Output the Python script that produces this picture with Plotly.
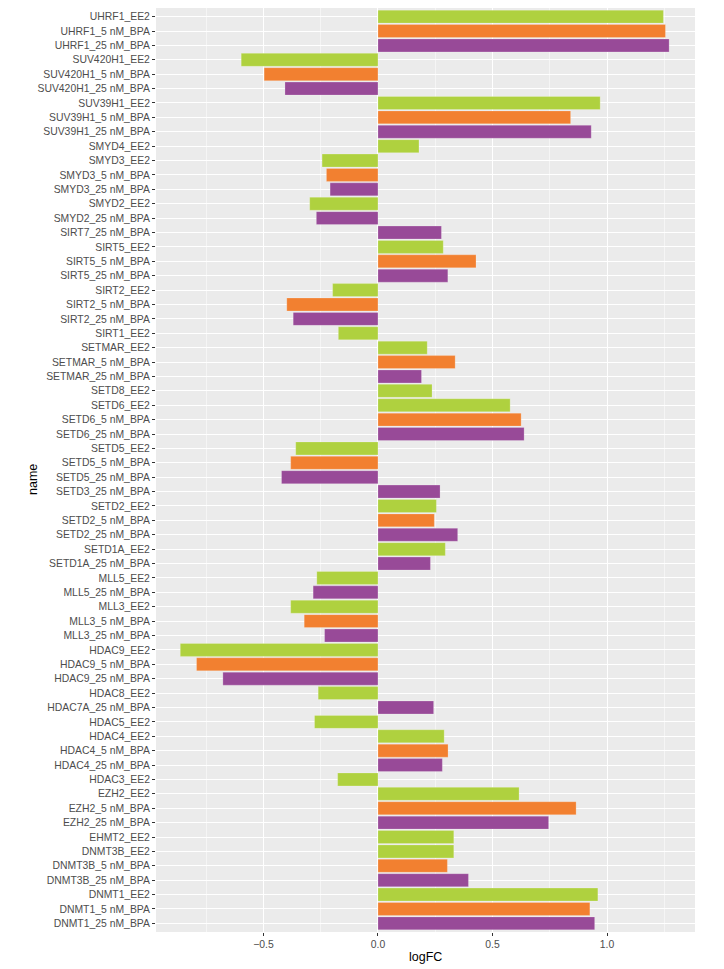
import plotly.graph_objects as go

names = [
    "UHRF1_EE2", "UHRF1_5 nM_BPA", "UHRF1_25 nM_BPA",
    "SUV420H1_EE2", "SUV420H1_5 nM_BPA", "SUV420H1_25 nM_BPA",
    "SUV39H1_EE2", "SUV39H1_5 nM_BPA", "SUV39H1_25 nM_BPA",
    "SMYD4_EE2",
    "SMYD3_EE2", "SMYD3_5 nM_BPA", "SMYD3_25 nM_BPA",
    "SMYD2_EE2", "SMYD2_25 nM_BPA",
    "SIRT7_25 nM_BPA",
    "SIRT5_EE2", "SIRT5_5 nM_BPA", "SIRT5_25 nM_BPA",
    "SIRT2_EE2", "SIRT2_5 nM_BPA", "SIRT2_25 nM_BPA",
    "SIRT1_EE2",
    "SETMAR_EE2", "SETMAR_5 nM_BPA", "SETMAR_25 nM_BPA",
    "SETD8_EE2",
    "SETD6_EE2", "SETD6_5 nM_BPA", "SETD6_25 nM_BPA",
    "SETD5_EE2", "SETD5_5 nM_BPA", "SETD5_25 nM_BPA",
    "SETD3_25 nM_BPA",
    "SETD2_EE2", "SETD2_5 nM_BPA", "SETD2_25 nM_BPA",
    "SETD1A_EE2", "SETD1A_25 nM_BPA",
    "MLL5_EE2", "MLL5_25 nM_BPA",
    "MLL3_EE2", "MLL3_5 nM_BPA", "MLL3_25 nM_BPA",
    "HDAC9_EE2", "HDAC9_5 nM_BPA", "HDAC9_25 nM_BPA",
    "HDAC8_EE2",
    "HDAC7A_25 nM_BPA",
    "HDAC5_EE2",
    "HDAC4_EE2", "HDAC4_5 nM_BPA", "HDAC4_25 nM_BPA",
    "HDAC3_EE2",
    "EZH2_EE2", "EZH2_5 nM_BPA", "EZH2_25 nM_BPA",
    "EHMT2_EE2",
    "DNMT3B_EE2", "DNMT3B_5 nM_BPA", "DNMT3B_25 nM_BPA",
    "DNMT1_EE2", "DNMT1_5 nM_BPA", "DNMT1_25 nM_BPA",
]

logFC = [
    1.246, 1.255, 1.271,
    -0.597, -0.497, -0.406,
    0.970, 0.841, 0.931,
    0.179,
    -0.244, -0.225, -0.209,
    -0.298, -0.269,
    0.277,
    0.285, 0.428, 0.305,
    -0.198, -0.398, -0.370,
    -0.173,
    0.215, 0.337, 0.190,
    0.236,
    0.577, 0.625, 0.638,
    -0.359, -0.381, -0.421,
    0.271,
    0.255, 0.246, 0.348,
    0.294, 0.229,
    -0.267, -0.283,
    -0.381, -0.322, -0.233,
    -0.863, -0.792, -0.677,
    -0.261,
    0.243,
    -0.277,
    0.289, 0.306, 0.281,
    -0.176,
    0.616, 0.865, 0.745,
    0.331,
    0.331, 0.303, 0.395,
    0.960, 0.925, 0.946,
]

groups = ["EE2", "5 nM_BPA", "25 nM_BPA"]
group_colors = {"EE2": "#AFD13F", "5 nM_BPA": "#F28030", "25 nM_BPA": "#984A98"}

def group_of(n):
    for g in ["25 nM_BPA", "5 nM_BPA", "EE2"]:
        if n.endswith(g):
            return g
    return "EE2"

fig = go.Figure()
for g in groups:
    ys = [n for n in names if group_of(n) == g]
    xs = [v for n, v in zip(names, logFC) if group_of(n) == g]
    fig.add_trace(go.Bar(
        x=xs, y=ys, orientation="h", width=0.9,
        marker=dict(color=group_colors[g], line=dict(color="rgba(255,255,255,0.35)", width=0.6)),
        name=g, showlegend=False,
    ))

# page body has an 8px default margin; compensate
OFF = 8
W, H = 724 - OFF, 969 - OFF
ML, MR, MT, MB = 156 - OFF, 29, 8 - OFF, 37
n = len(names)
fig.update_layout(
    width=W, height=H,
    margin=dict(l=ML, r=MR, t=MT, b=MB, pad=0),
    paper_bgcolor="white",
    plot_bgcolor="#EBEBEB",
    barmode="overlay",
    font=dict(family="Liberation Sans, Arial, sans-serif", size=10.4, color="#4D4D4D"),
    xaxis=dict(
        range=[-0.969, 1.384],
        tickvals=[-0.5, 0.0, 0.5, 1.0],
        ticktext=["\u22120.5", "0.0", "0.5", "1.0"],
        showgrid=True, gridcolor="white", gridwidth=1.1,
        zeroline=False, showline=False,
        ticks="outside", ticklen=3, tickcolor="#333333", tickwidth=1,
        tickfont=dict(size=10.4, color="#4D4D4D"),
        minor=dict(tickvals=[-0.75, -0.25, 0.25, 0.75, 1.25], showgrid=True,
                   gridcolor="#F5F5F5", gridwidth=0.55, ticks=""),
    ),
    yaxis=dict(
        type="category",
        categoryorder="array", categoryarray=names,
        range=[n - 1 + 0.6, -0.6],
        showgrid=True, gridcolor="white", gridwidth=1.1,
        zeroline=False, showline=False,
        ticks="outside", ticklen=3, tickcolor="#333333", tickwidth=1,
        tickfont=dict(size=10.4, color="#4D4D4D"),
    ),
)

ph = H - MT - MB
pw = W - ML - MR
# target page positions (in window pixels)
logfc_y = 957
name_x, name_y = 33, 480
fig.add_annotation(text="logFC", xref="paper", yref="paper", x=0.5,
                   y=((H - MB) - (logfc_y - OFF)) / ph, yanchor="middle",
                   showarrow=False, font=dict(size=12.5, color="black"))
fig.add_annotation(text="name", xref="paper", yref="paper",
                   x=((name_x - OFF) - ML) / pw, xanchor="center",
                   y=((H - MB) - (name_y - OFF)) / ph, yanchor="middle",
                   textangle=-90, showarrow=False, font=dict(size=12.5, color="black"))

fig.write_html("out.html")
